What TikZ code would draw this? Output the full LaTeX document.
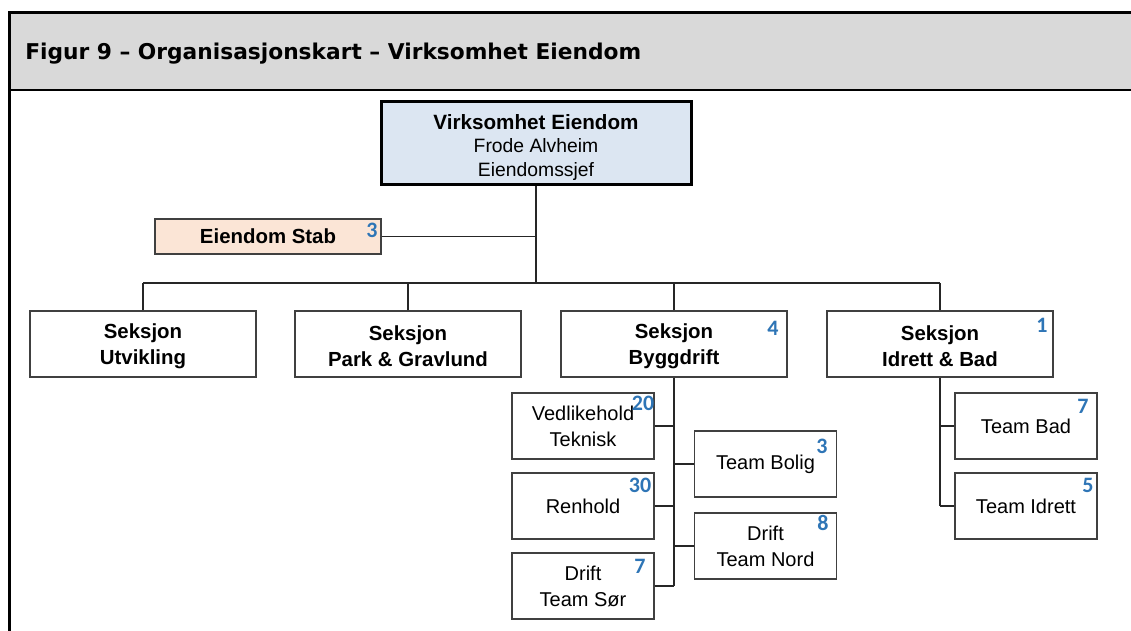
\documentclass[tikz,border=0pt]{standalone}
\usepackage{fontspec}
\setmainfont{Liberation Sans}
\newfontfamily\headfont{DejaVu Sans}
\newfontfamily\numfont{Carlito}
\usetikzlibrary{positioning}

\newlength\pxu
\setlength\pxu{0.75pt}
\definecolor{headgrey}{RGB}{217,217,217}
\definecolor{topblue}{RGB}{220,230,242}
\definecolor{stabpeach}{RGB}{251,229,214}
\definecolor{numblue}{RGB}{46,117,182}
\definecolor{boxline}{RGB}{64,64,64}

\tikzset{
  unit/.style={draw=boxline, line width=1.3\pxu, fill=white, align=center, inner sep=0pt,
    font=\fontsize{15}{19.5}\selectfont},
  seksjon/.style={unit, minimum width=226\pxu, minimum height=66\pxu,
    font=\bfseries\fontsize{15.3}{19.5}\selectfont},
  team/.style={unit, minimum width=142\pxu, minimum height=66\pxu},
  num/.style={text=numblue, inner sep=0pt, font=\numfont\bfseries\fontsize{16.5}{16.5}\selectfont},
  link/.style={draw=black!85, line width=1.3\pxu}
}

\begin{document}
\begin{tikzpicture}[x=\pxu,y=-\pxu,line cap=butt,line join=miter]
% Draw region settings
\useasboundingbox (0,0) rectangle (1131,631);
% Header
\fill[headgrey] (9,13) rectangle (1131,90);
\draw[line width=3\pxu] (1131,13) -- (9,13) -- (9,631);
\draw[line width=2.5\pxu] (9,90) -- (1131,90);
\node[anchor=west, inner sep=0pt, font=\headfont\bfseries\fontsize{16.3}{16.3}\selectfont] (title) at (25,54) {Figur 9 – Organisasjonskart – Virksomhet Eiendom};
% Top
\node[unit, draw=black, line width=3\pxu, fill=topblue, minimum width=310\pxu, minimum height=83\pxu,
  font=\fontsize{14.5}{17.8}\selectfont] (top) at (536,143.5)
  {\rule{0pt}{17pt}\textbf{\fontsize{15.5}{17.8}\selectfont Virksomhet Eiendom}\\Frode Alvheim\\Eiendomssjef};
\node[seksjon, fill=stabpeach, minimum height=35\pxu] (stab) at (268,236.5) {Eiendom Stab};
\coordinate (bus) at (536,283);
% Sections
\node[seksjon] (utv) at (143,344) {\rule{0pt}{14pt}Seksjon\\Utvikling};
\node[seksjon] (park) at (408,344) {\rule{0pt}{14pt}Seksjon\\Park \& Gravlund};
\node[seksjon] (bygg) at (674,344) {\rule{0pt}{14pt}Seksjon\\Byggdrift};
\node[seksjon] (idr) at (940,344) {\rule{0pt}{14pt}Seksjon\\Idrett \& Bad};
% Byggdrift teams
\node[team] (vedl) at (583,426) {Vedlikehold\\Teknisk};
\node[team] (renh) at (583,506) {Renhold};
\node[team] (dsor) at (583,586) {Drift\\Team Sør};
\node[team] (bolig) at (765.5,464) {Team Bolig};
\node[team] (dnord) at (765.5,546) {Drift\\Team Nord};
% Idrett teams
\node[team] (tbad) at (1026,426) {Team Bad};
\node[team] (tidr) at (1026,506) {Team Idrett};
% Staff counts
\node[num] (nstab) at (372,230) {3};
\node[num] (nbygg) at (773,328) {4};
\node[num] (nidr) at (1042,325) {1};
\node[num] (nvedl) at (643,403) {20};
\node[num] (nbolig) at (822,446) {3};
\node[num] (nrenh) at (640,485) {30};
\node[num] (nnord) at (823,523) {8};
\node[num] (nsor) at (640,566) {7};
\node[num] (nbad) at (1083,406) {7};
\node[num] (ntidr) at (1088,485) {5};
% Lines
\draw[link] (top.south) -- (bus);
\draw[link] (stab.east) -- (stab.east -| top.south);
\draw[link] (utv.north |- bus) -- (idr.north |- bus);
\foreach \s in {utv,park,bygg,idr}
  \draw[link] (\s.north) -- (\s.north |- bus);
\draw[link] (bygg.south) -- (bygg.south |- dsor.east);
\foreach \t in {vedl,renh,dsor}
  \draw[link] (\t.east) -- (\t.east -| bygg.south);
\foreach \t in {bolig,dnord}
  \draw[link] (\t.west) -- (\t.west -| bygg.south);
\draw[link] (idr.south) -- (idr.south |- tidr.west);
\foreach \t in {tbad,tidr}
  \draw[link] (\t.west) -- (\t.west -| idr.south);
\end{tikzpicture}
\end{document}
